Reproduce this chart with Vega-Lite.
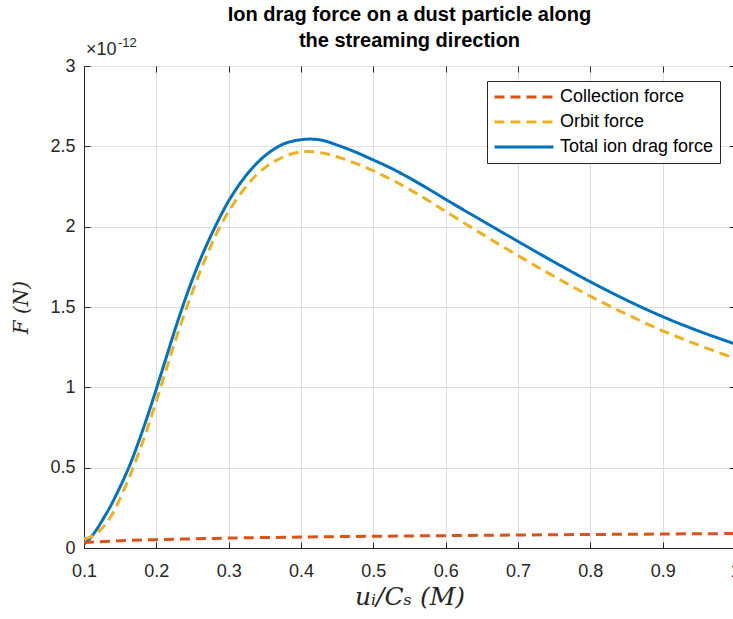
{
  "$schema": "https://vega.github.io/schema/vega-lite/v6.json",
  "autosize": "none",
  "width": 651,
  "height": 482,
  "padding": {"left": 84, "top": 66, "right": 0, "bottom": 71},
  "background": "white",
  "config": {
    "font": "Liberation Sans",
    "view": {"stroke": "#262626", "strokeWidth": 1}
  },
  "title": {
    "text": ["Ion drag force on a dust particle along", "the streaming direction"],
    "fontSize": 20,
    "fontWeight": "bold",
    "font": "Liberation Sans",
    "anchor": "middle",
    "frame": "group",
    "offset": -14,
    "lineHeight": 26,
    "color": "black"
  },
  "resolve": {"axis": {"x": "independent", "y": "independent"}},
  "layer": [
    {
      "data": {
        "values": [
          {"u": 0.1, "F": 0.025, "series": "Total ion drag force"},
          {"u": 0.105, "F": 0.045, "series": "Total ion drag force"},
          {"u": 0.11, "F": 0.07, "series": "Total ion drag force"},
          {"u": 0.1175, "F": 0.115, "series": "Total ion drag force"},
          {"u": 0.125, "F": 0.17, "series": "Total ion drag force"},
          {"u": 0.136, "F": 0.255, "series": "Total ion drag force"},
          {"u": 0.145, "F": 0.335, "series": "Total ion drag force"},
          {"u": 0.154, "F": 0.42, "series": "Total ion drag force"},
          {"u": 0.165, "F": 0.535, "series": "Total ion drag force"},
          {"u": 0.175, "F": 0.655, "series": "Total ion drag force"},
          {"u": 0.187, "F": 0.81, "series": "Total ion drag force"},
          {"u": 0.2, "F": 0.99, "series": "Total ion drag force"},
          {"u": 0.214, "F": 1.19, "series": "Total ion drag force"},
          {"u": 0.228, "F": 1.39, "series": "Total ion drag force"},
          {"u": 0.242, "F": 1.575, "series": "Total ion drag force"},
          {"u": 0.254, "F": 1.72, "series": "Total ion drag force"},
          {"u": 0.265, "F": 1.84, "series": "Total ion drag force"},
          {"u": 0.283, "F": 2.015, "series": "Total ion drag force"},
          {"u": 0.3, "F": 2.16, "series": "Total ion drag force"},
          {"u": 0.32, "F": 2.295, "series": "Total ion drag force"},
          {"u": 0.339, "F": 2.395, "series": "Total ion drag force"},
          {"u": 0.357, "F": 2.465, "series": "Total ion drag force"},
          {"u": 0.376, "F": 2.515, "series": "Total ion drag force"},
          {"u": 0.395, "F": 2.538, "series": "Total ion drag force"},
          {"u": 0.413, "F": 2.545, "series": "Total ion drag force"},
          {"u": 0.43, "F": 2.537, "series": "Total ion drag force"},
          {"u": 0.45, "F": 2.508, "series": "Total ion drag force"},
          {"u": 0.475, "F": 2.465, "series": "Total ion drag force"},
          {"u": 0.5, "F": 2.415, "series": "Total ion drag force"},
          {"u": 0.525, "F": 2.363, "series": "Total ion drag force"},
          {"u": 0.55, "F": 2.303, "series": "Total ion drag force"},
          {"u": 0.575, "F": 2.238, "series": "Total ion drag force"},
          {"u": 0.6, "F": 2.17, "series": "Total ion drag force"},
          {"u": 0.65, "F": 2.038, "series": "Total ion drag force"},
          {"u": 0.7, "F": 1.908, "series": "Total ion drag force"},
          {"u": 0.75, "F": 1.78, "series": "Total ion drag force"},
          {"u": 0.8, "F": 1.657, "series": "Total ion drag force"},
          {"u": 0.85, "F": 1.543, "series": "Total ion drag force"},
          {"u": 0.9, "F": 1.44, "series": "Total ion drag force"},
          {"u": 0.95, "F": 1.35, "series": "Total ion drag force"},
          {"u": 1.0, "F": 1.27, "series": "Total ion drag force"},
          {"u": 0.1, "F": 0.035, "series": "Collection force"},
          {"u": 0.15, "F": 0.045, "series": "Collection force"},
          {"u": 0.2, "F": 0.052, "series": "Collection force"},
          {"u": 0.25, "F": 0.057, "series": "Collection force"},
          {"u": 0.3, "F": 0.062, "series": "Collection force"},
          {"u": 0.4, "F": 0.068, "series": "Collection force"},
          {"u": 0.5, "F": 0.073, "series": "Collection force"},
          {"u": 0.6, "F": 0.077, "series": "Collection force"},
          {"u": 0.7, "F": 0.081, "series": "Collection force"},
          {"u": 0.8, "F": 0.084, "series": "Collection force"},
          {"u": 0.9, "F": 0.087, "series": "Collection force"},
          {"u": 1.0, "F": 0.09, "series": "Collection force"},
          {"u": 0.1, "F": 0.055, "series": "Orbit force"},
          {"u": 0.11, "F": 0.07, "series": "Orbit force"},
          {"u": 0.12, "F": 0.1, "series": "Orbit force"},
          {"u": 0.13, "F": 0.15, "series": "Orbit force"},
          {"u": 0.141, "F": 0.225, "series": "Orbit force"},
          {"u": 0.152, "F": 0.33, "series": "Orbit force"},
          {"u": 0.164, "F": 0.455, "series": "Orbit force"},
          {"u": 0.175, "F": 0.585, "series": "Orbit force"},
          {"u": 0.187, "F": 0.735, "series": "Orbit force"},
          {"u": 0.2, "F": 0.915, "series": "Orbit force"},
          {"u": 0.215, "F": 1.13, "series": "Orbit force"},
          {"u": 0.228, "F": 1.315, "series": "Orbit force"},
          {"u": 0.247, "F": 1.56, "series": "Orbit force"},
          {"u": 0.265, "F": 1.77, "series": "Orbit force"},
          {"u": 0.283, "F": 1.955, "series": "Orbit force"},
          {"u": 0.3, "F": 2.095, "series": "Orbit force"},
          {"u": 0.325, "F": 2.255, "series": "Orbit force"},
          {"u": 0.348, "F": 2.36, "series": "Orbit force"},
          {"u": 0.376, "F": 2.435, "series": "Orbit force"},
          {"u": 0.395, "F": 2.462, "series": "Orbit force"},
          {"u": 0.41, "F": 2.468, "series": "Orbit force"},
          {"u": 0.43, "F": 2.458, "series": "Orbit force"},
          {"u": 0.45, "F": 2.435, "series": "Orbit force"},
          {"u": 0.475, "F": 2.395, "series": "Orbit force"},
          {"u": 0.5, "F": 2.348, "series": "Orbit force"},
          {"u": 0.525, "F": 2.293, "series": "Orbit force"},
          {"u": 0.55, "F": 2.232, "series": "Orbit force"},
          {"u": 0.575, "F": 2.165, "series": "Orbit force"},
          {"u": 0.6, "F": 2.095, "series": "Orbit force"},
          {"u": 0.65, "F": 1.955, "series": "Orbit force"},
          {"u": 0.7, "F": 1.82, "series": "Orbit force"},
          {"u": 0.75, "F": 1.69, "series": "Orbit force"},
          {"u": 0.8, "F": 1.567, "series": "Orbit force"},
          {"u": 0.85, "F": 1.455, "series": "Orbit force"},
          {"u": 0.9, "F": 1.352, "series": "Orbit force"},
          {"u": 0.95, "F": 1.262, "series": "Orbit force"},
          {"u": 1.0, "F": 1.18, "series": "Orbit force"}
        ]
      },
      "mark": {"type": "line", "interpolate": "catmull-rom", "clip": true},
      "encoding": {
        "x": {
          "field": "u",
          "type": "quantitative",
          "scale": {"domain": [0.1, 1], "nice": false, "zero": false},
          "axis": {
            "values": [0.1, 0.2, 0.3, 0.4, 0.5, 0.6, 0.7, 0.8, 0.9, 1.0],
            "format": "~g",
            "title": "uᵢ/Cₛ  (M)",
            "titleFont": "DejaVu Serif",
            "titleFontStyle": "italic",
            "titleFontWeight": "normal",
            "titleFontSize": 25,
            "titleColor": "#262626",
            "titlePadding": 4,
            "labelFontSize": 18,
            "labelColor": "#262626",
            "labelPadding": 20,
            "labelFlush": false,
            "labelOverlap": false,
            "tickSize": -6,
            "tickColor": "#262626",
            "domainColor": "#262626",
            "grid": true,
            "gridColor": "#dedede",
            "gridWidth": 1
          }
        },
        "y": {
          "field": "F",
          "type": "quantitative",
          "scale": {"domain": [0, 3], "nice": false, "zero": false},
          "axis": {
            "values": [0, 0.5, 1, 1.5, 2, 2.5, 3],
            "format": "~g",
            "title": "F (N)",
            "titleFont": "DejaVu Serif",
            "titleFontStyle": "italic",
            "titleFontWeight": "normal",
            "titleFontSize": 20,
            "titleColor": "#262626",
            "titlePadding": 18,
            "labelFontSize": 18,
            "labelColor": "#262626",
            "labelPadding": 15,
            "labelFlush": false,
            "labelOverlap": false,
            "tickSize": -6,
            "tickColor": "#262626",
            "domainColor": "#262626",
            "grid": true,
            "gridColor": "#dedede",
            "gridWidth": 1
          }
        },
        "color": {
          "field": "series",
          "type": "nominal",
          "scale": {
            "domain": ["Collection force", "Orbit force", "Total ion drag force"],
            "range": ["#D95319", "#EDB120", "#0072BD"]
          },
          "legend": {
            "title": null,
            "orient": "none",
            "legendX": 403,
            "legendY": 15,
            "direction": "vertical",
            "fillColor": "white",
            "strokeColor": "#262626",
            "padding": 6,
            "symbolType": "stroke",
            "symbolSize": 3481,
            "symbolStrokeWidth": 3,
            "clipHeight": 20,
            "rowPadding": 5,
            "labelFontSize": 18,
            "labelFont": "Liberation Sans",
            "labelColor": "black",
            "labelOffset": 5,
            "labelLimit": 300
          }
        },
        "strokeDash": {
          "field": "series",
          "type": "nominal",
          "scale": {
            "domain": ["Collection force", "Orbit force", "Total ion drag force"],
            "range": [[10, 6], [10, 6], [1, 0]]
          },
          "legend": {
            "title": null,
            "orient": "none",
            "legendX": 403,
            "legendY": 15,
            "direction": "vertical",
            "fillColor": "white",
            "strokeColor": "#262626",
            "padding": 6,
            "symbolType": "stroke",
            "symbolSize": 3481,
            "symbolStrokeWidth": 3,
            "clipHeight": 20,
            "rowPadding": 5,
            "labelFontSize": 18,
            "labelFont": "Liberation Sans",
            "labelColor": "black",
            "labelOffset": 5,
            "labelLimit": 300
          }
        },
        "strokeWidth": {
          "field": "series",
          "type": "nominal",
          "scale": {
            "domain": ["Collection force", "Orbit force", "Total ion drag force"],
            "range": [3, 3, 4]
          },
          "legend": null
        }
      }
    },
    {
      "data": {"values": [{"label": "×10"}]},
      "mark": {"type": "text", "align": "left", "baseline": "middle", "size": 18, "fontSize": 18, "color": "#262626", "dx": 2, "dy": -16},
      "encoding": {
        "text": {"field": "label"},
        "x": {
          "datum": 0.1,
          "type": "quantitative",
          "scale": {"domain": [0.1, 1], "nice": false, "zero": false},
          "axis": {
            "orient": "top",
            "values": [0.1, 0.2, 0.3, 0.4, 0.5, 0.6, 0.7, 0.8, 0.9, 1.0],
            "labels": false,
            "domain": false,
            "grid": false,
            "title": null,
            "tickSize": -6,
            "tickColor": "#262626"
          }
        },
        "y": {
          "datum": 3,
          "type": "quantitative",
          "scale": {"domain": [0, 3], "nice": false, "zero": false},
          "axis": {
            "orient": "right",
            "values": [0, 0.5, 1, 1.5, 2, 2.5, 3],
            "labels": false,
            "domain": false,
            "grid": false,
            "title": null,
            "tickSize": -6,
            "tickColor": "#262626"
          }
        }
      }
    },
    {
      "data": {"values": [{"label": "-12"}]},
      "mark": {"type": "text", "align": "left", "baseline": "middle", "size": 13, "fontSize": 13, "color": "#262626", "dx": 34, "dy": -23},
      "encoding": {
        "text": {"field": "label"},
        "x": {"datum": 0.1, "type": "quantitative", "axis": null},
        "y": {"datum": 3, "type": "quantitative", "axis": null}
      }
    }
  ]
}
